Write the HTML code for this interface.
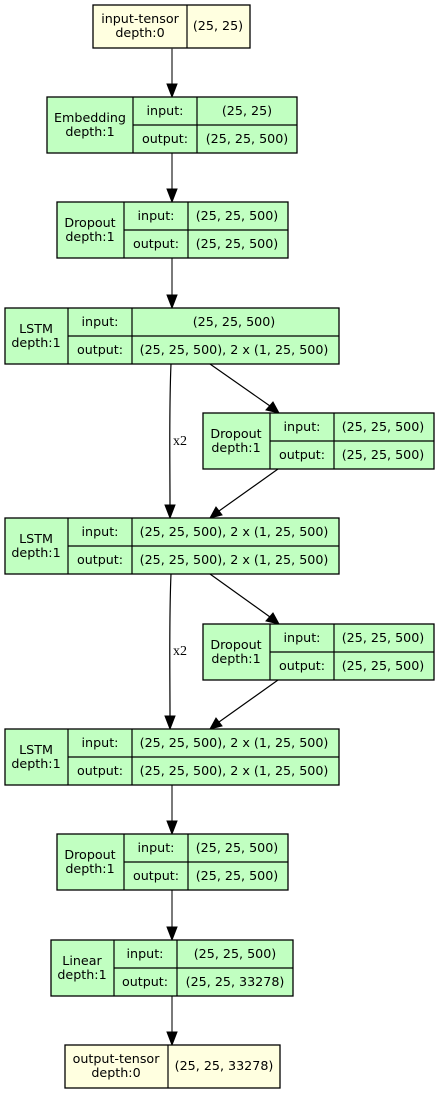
<!DOCTYPE html>
<html><head><meta charset="utf-8"><style>
html,body{margin:0;padding:0;background:#fff;}
svg{display:block;}
svg text{font-family:"DejaVu Sans","Liberation Sans",sans-serif;font-size:12.7px;fill:#000;}
.g{fill:#c1ffc1;stroke:#000;stroke-width:1.3;}
.y{fill:#ffffe0;stroke:#000;stroke-width:1.3;}
.l{stroke:#000;stroke-width:1.2;fill:none;}
.e{stroke:#333;stroke-width:1.3;fill:none;}
.h{fill:#000;stroke:#000;}
</style></head><body>
<svg width="438" height="1093" viewBox="0 0 438 1093" xmlns="http://www.w3.org/2000/svg">
<rect class="y" x="93" y="5" width="157" height="43"/>
<line class="l" x1="187" y1="5" x2="187" y2="48"/>
<text x="140" y="23" text-anchor="middle">input-tensor</text>
<text x="140" y="37" text-anchor="middle">depth:0</text>
<text x="218" y="30" text-anchor="middle">(25, 25)</text>

<path class="e" d="M172 48 V84"/><polygon class="h" points="167,84 177,84 172,97"/>
<path class="e" d="M172 153 V189"/><polygon class="h" points="167,189 177,189 172,202"/>
<path class="e" d="M172 258 V295"/><polygon class="h" points="167,295 177,295 172,308"/>
<path class="e" d="M172 785 V821"/><polygon class="h" points="167,821 177,821 172,834"/>
<path class="e" d="M172 890 V927"/><polygon class="h" points="167,927 177,927 172,940"/>
<path class="e" d="M172 996 V1032"/><polygon class="h" points="167,1032 177,1032 172,1045"/>

<path class="l" d="M171 364 C169 410 170 460 170 505"/><polygon class="h" points="165,505 175,505 170,518"/>
<text x="173" y="445" style="font-family:'Liberation Serif','DejaVu Serif',serif;font-size:14px">x2</text>
<path class="l" d="M210 364 L270 406"/><polygon class="h" points="266,410 273,402 279,413"/>
<path class="l" d="M278 469 L219 511"/><polygon class="h" points="216,507 222,515 210,518"/>
<path class="l" d="M171 574 C169 620 170 670 170 716"/><polygon class="h" points="165,716 175,716 170,729"/>
<text x="173" y="655" style="font-family:'Liberation Serif','DejaVu Serif',serif;font-size:14px">x2</text>
<path class="l" d="M210 574 L270 617"/><polygon class="h" points="266,621 273,613 279,624"/>
<path class="l" d="M278 680 L219 722"/><polygon class="h" points="216,718 222,726 210,729"/>

<rect class="g" x="47" y="97" width="250" height="56"/>
<path class="l" d="M133 97V153M197 97V153M133 125H297"/>
<text x="90" y="122" text-anchor="middle">Embedding</text><text x="90" y="136" text-anchor="middle">depth:1</text>
<text x="165" y="115" text-anchor="middle">input:</text><text x="165" y="143" text-anchor="middle">output:</text>
<text x="247" y="115" text-anchor="middle">(25, 25)</text><text x="247" y="143" text-anchor="middle">(25, 25, 500)</text>

<g id="d1">
<rect class="g" x="57" y="202" width="231" height="56"/>
<path class="l" d="M124 202V258M188 202V258M124 230H288"/>
<text x="90" y="227" text-anchor="middle">Dropout</text><text x="90" y="241" text-anchor="middle">depth:1</text>
<text x="156" y="220" text-anchor="middle">input:</text><text x="156" y="248" text-anchor="middle">output:</text>
<text x="237" y="220" text-anchor="middle">(25, 25, 500)</text><text x="237" y="248" text-anchor="middle">(25, 25, 500)</text>
</g>
<use href="#d1" x="146" y="211"/>
<use href="#d1" x="146" y="422"/>
<use href="#d1" x="0" y="632"/>

<rect class="g" x="5" y="308" width="334" height="56"/>
<path class="l" d="M68 308V364M132 308V364M68 336H339"/>
<text x="36" y="333" text-anchor="middle">LSTM</text><text x="36" y="347" text-anchor="middle">depth:1</text>
<text x="100" y="326" text-anchor="middle">input:</text><text x="100" y="354" text-anchor="middle">output:</text>
<text x="234" y="326" text-anchor="middle">(25, 25, 500)</text><text x="234" y="354" text-anchor="middle">(25, 25, 500), 2 x (1, 25, 500)</text>

<g id="ls2">
<rect class="g" x="5" y="518" width="334" height="56"/>
<path class="l" d="M68 518V574M132 518V574M68 546H339"/>
<text x="36" y="543" text-anchor="middle">LSTM</text><text x="36" y="557" text-anchor="middle">depth:1</text>
<text x="100" y="536" text-anchor="middle">input:</text><text x="100" y="564" text-anchor="middle">output:</text>
<text x="234" y="536" text-anchor="middle">(25, 25, 500), 2 x (1, 25, 500)</text><text x="234" y="564" text-anchor="middle">(25, 25, 500), 2 x (1, 25, 500)</text>
</g>
<use href="#ls2" x="0" y="211"/>

<rect class="g" x="51" y="940" width="242" height="56"/>
<path class="l" d="M114 940V996M177 940V996M114 968H293"/>
<text x="82" y="965" text-anchor="middle">Linear</text><text x="82" y="979" text-anchor="middle">depth:1</text>
<text x="145" y="958" text-anchor="middle">input:</text><text x="145" y="986" text-anchor="middle">output:</text>
<text x="235" y="958" text-anchor="middle">(25, 25, 500)</text><text x="235" y="986" text-anchor="middle">(25, 25, 33278)</text>

<rect class="y" x="65" y="1045" width="215" height="43"/>
<line class="l" x1="168" y1="1045" x2="168" y2="1088"/>
<text x="116" y="1063" text-anchor="middle">output-tensor</text>
<text x="116" y="1077" text-anchor="middle">depth:0</text>
<text x="224" y="1070" text-anchor="middle">(25, 25, 33278)</text>
</svg>
</body></html>
